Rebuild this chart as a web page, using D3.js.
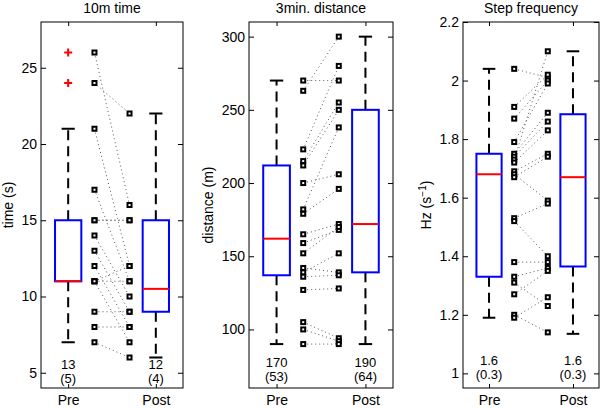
<!DOCTYPE html>
<html>
<head>
<meta charset="utf-8">
<script src="https://cdn.jsdelivr.net/npm/d3@7"></script>
<style>
  html, body { margin: 0; padding: 0; background: #fff; }
  svg { display: block; }
  text { font-family: "Liberation Sans", Arial, Helvetica, sans-serif; }
</style>
</head>
<body>
<svg id="chart" width="600" height="408"></svg>
<script>
// ---------- DATA ----------
const categories = ["Pre", "Post"];
const titles = ["10m time", "3min. distance", "Step frequency"];

// 10m time (s)
const timePre  = [26, 24, 21, 17, 15, 15, 14, 13, 12, 11, 11, 11, 9, 8, 7];
const timePost = [16, 22, 12, 11, 15, 15, 10, 9, 8, 12, 11, 7, 9, 8, 6];
// box stats: [whisker low, Q1, median, Q3, whisker high]
const timeBoxPre  = [7, 11, 11, 15, 21];
const timeBoxPost = [6, 9, 10.5, 15, 22];
const timeOutliersPre  = [24, 26];
const timeOutliersPost = [];
const timeTicks = [5, 10, 15, 20, 25];
const timeStats = [["13", "(5)"], ["12", "(4)"]];

// 3min distance (m)
const distPre  = [270, 263, 223, 215, 212, 200, 182, 179, 165, 159, 152, 142, 139, 136, 127, 105, 100, 90];
const distPost = [270, 300, 280, 255, 250, 206, 238, 196, 172, 168, 170, 139, 152, 137, 128, 94, 92, 90];
const distBoxPre  = [90, 137, 162, 212, 270];
const distBoxPost = [90, 139, 172, 250, 300];
const distOutliersPre  = [];
const distOutliersPost = [];
const distTicks = [100, 150, 200, 250, 300];
const distStats = [["170", "(53)"], ["190", "(64)"]];

// Step frequency (Hz)
const freqPre  = [2.04, 1.91, 1.87, 1.79, 1.75, 1.74, 1.73, 1.72, 1.69, 1.68, 1.67, 1.53, 1.52, 1.38, 1.33, 1.31, 1.27, 1.20, 1.19];
const freqPost = [2.01, 2.02, 2.00, 1.99, 1.89, 1.86, 2.10, 1.83, 1.75, 1.59, 1.74, 1.58, 1.40, 1.38, 1.36, 1.23, 1.35, 1.14, 1.26];
const freqBoxPre  = [1.19, 1.33, 1.68, 1.75, 2.04];
const freqBoxPost = [1.135, 1.365, 1.67, 1.885, 2.10];
const freqOutliersPre  = [];
const freqOutliersPost = [];
const freqTicks = [1, 1.2, 1.4, 1.6, 1.8, 2, 2.2];
const freqStats = [["1.6", "(0.3)"], ["1.6", "(0.3)"]];

// ---------- LAYOUT ----------
const svg = d3.select("#chart");
const TOP = 22, BOTTOM = 388;
const FONT = 14;

const panels = [
  { title: titles[0], x0: 41, x1: 183, ydom: [4, 28], ticks: timeTicks,
    pre: timePre, post: timePost, boxes: [timeBoxPre, timeBoxPost],
    outliers: [timeOutliersPre, timeOutliersPost], stats: timeStats,
    statY: [369, 383], ylabel: "time (s)", ylabelX: 13 },
  { title: titles[1], x0: 249, x1: 393, ydom: [60, 310], ticks: distTicks,
    pre: distPre, post: distPost, boxes: [distBoxPre, distBoxPost],
    outliers: [distOutliersPre, distOutliersPost], stats: distStats,
    statY: [367, 381], ylabel: "distance (m)", ylabelX: 213 },
  { title: titles[2], x0: 463, x1: 599, ydom: [0.95, 2.2], ticks: freqTicks,
    pre: freqPre, post: freqPost, boxes: [freqBoxPre, freqBoxPost],
    outliers: [freqOutliersPre, freqOutliersPost], stats: freqStats,
    statY: [365, 379], ylabel: null, ylabelX: 431 }
];

panels.forEach(p => drawPanel(p));

function drawPanel(p) {
  const g = svg.append("g");
  const x = d3.scaleLinear().domain([0.69, 2.31]).range([p.x0, p.x1]);
  const y = d3.scaleLinear().domain(p.ydom).range([BOTTOM, TOP]);
  const boxHalf = (x(1.15) - x(1));
  const capHalf = (x(1.075) - x(1));

  // axes (inward ticks on all sides, MATLAB style)
  const left = g.append("g").attr("transform", `translate(${p.x0},0)`)
    .call(d3.axisLeft(y).tickValues(p.ticks).tickSizeInner(-5).tickSizeOuter(0)
      .tickPadding(4).tickFormat(d => String(d)));
  const right = g.append("g").attr("transform", `translate(${p.x1},0)`)
    .call(d3.axisRight(y).tickValues(p.ticks).tickSizeInner(-5).tickSizeOuter(0).tickFormat(""));
  const bottom = g.append("g").attr("transform", `translate(0,${BOTTOM})`)
    .call(d3.axisBottom(x).tickValues([1, 2]).tickSizeInner(-4).tickSizeOuter(0)
      .tickPadding(7).tickFormat((d, i) => categories[i]));
  const top = g.append("g").attr("transform", `translate(0,${TOP})`)
    .call(d3.axisTop(x).tickValues([1, 2]).tickSizeInner(-4).tickSizeOuter(0).tickFormat(""));
  [left, right, bottom, top].forEach(a => {
    a.select(".domain").remove();
    a.selectAll("line").attr("stroke", "#000").attr("stroke-width", 1);
    a.selectAll("text").attr("font-size", FONT).attr("fill", "#000")
      .attr("font-family", '"Liberation Sans", Arial, Helvetica, sans-serif');
  });

  // frame
  g.append("rect").attr("x", p.x0).attr("y", TOP)
    .attr("width", p.x1 - p.x0).attr("height", BOTTOM - TOP)
    .attr("fill", "none").attr("stroke", "#000").attr("stroke-width", 1);

  // title
  g.append("text").attr("x", (p.x0 + p.x1) / 2).attr("y", 13)
    .attr("text-anchor", "middle").attr("font-size", FONT).text(p.title);

  // y label
  const yl = g.append("text")
    .attr("transform", `translate(${p.ylabelX},${(TOP + BOTTOM) / 2}) rotate(-90)`)
    .attr("text-anchor", "middle").attr("font-size", FONT);
  if (p.ylabel) {
    yl.text(p.ylabel);
  } else {
    yl.append("tspan").text("Hz (s");
    yl.append("tspan").attr("dy", -5).attr("font-size", 10).text("\u22121");
    yl.append("tspan").attr("dy", 5).text(")");
  }

  // paired lines
  const xPre = x(1.3), xPost = x(1.7);
  g.append("g").selectAll("line").data(p.pre).join("line")
    .attr("x1", xPre).attr("y1", d => y(d))
    .attr("x2", xPost).attr("y2", (d, i) => y(p.post[i]))
    .attr("stroke", "#555").attr("stroke-width", 1)
    .attr("stroke-dasharray", "1,3");

  // squares
  const sq = 4;
  const pts = g.append("g");
  pts.selectAll("rect.pre").data(p.pre).join("rect").attr("class", "pre")
    .attr("x", xPre - sq / 2).attr("y", d => y(d) - sq / 2)
    .attr("width", sq).attr("height", sq)
    .attr("fill", "#fff").attr("stroke", "#000").attr("stroke-width", 2);
  pts.selectAll("rect.post").data(p.post).join("rect").attr("class", "post")
    .attr("x", xPost - sq / 2).attr("y", d => y(d) - sq / 2)
    .attr("width", sq).attr("height", sq)
    .attr("fill", "#fff").attr("stroke", "#000").attr("stroke-width", 2);

  // boxes
  p.boxes.forEach((b, i) => {
    const cx = x(i + 1);
    const [lo, q1, med, q3, hi] = b;
    const bg = g.append("g");
    // whiskers
    bg.append("line").attr("x1", cx).attr("x2", cx).attr("y1", y(q3)).attr("y2", y(hi))
      .attr("stroke", "#000").attr("stroke-width", 2).attr("stroke-dasharray", "10,6");
    bg.append("line").attr("x1", cx).attr("x2", cx).attr("y1", y(q1)).attr("y2", y(lo))
      .attr("stroke", "#000").attr("stroke-width", 2).attr("stroke-dasharray", "10,6");
    // caps
    [lo, hi].forEach(v => bg.append("line")
      .attr("x1", cx - capHalf).attr("x2", cx + capHalf).attr("y1", y(v)).attr("y2", y(v))
      .attr("stroke", "#000").attr("stroke-width", 2));
    // box
    bg.append("rect").attr("x", cx - boxHalf).attr("y", y(q3))
      .attr("width", 2 * boxHalf).attr("height", y(q1) - y(q3))
      .attr("fill", "none").attr("stroke", "#0000ff").attr("stroke-width", 2);
    // median
    bg.append("line").attr("x1", cx - boxHalf).attr("x2", cx + boxHalf)
      .attr("y1", y(med)).attr("y2", y(med))
      .attr("stroke", "#ff0000").attr("stroke-width", 2);
    // outliers
    p.outliers[i].forEach(v => {
      bg.append("path")
        .attr("d", `M${cx - 4},${y(v)}H${cx + 4}M${cx},${y(v) - 4}V${y(v) + 4}`)
        .attr("stroke", "#ff0000").attr("stroke-width", 2).attr("fill", "none");
    });
    // stats text
    p.stats[i].forEach((s, k) => {
      bg.append("text").attr("x", cx).attr("y", p.statY[k])
        .attr("text-anchor", "middle").attr("font-size", 13).text(s);
    });
  });
}
</script>
</body>
</html>
